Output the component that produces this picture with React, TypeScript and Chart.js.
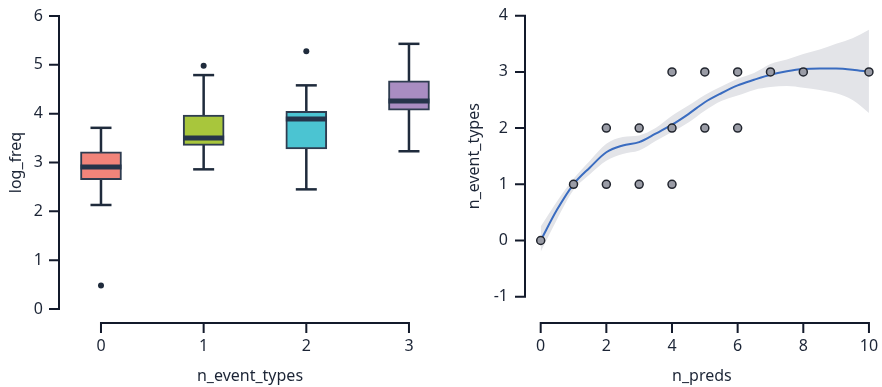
import React, { useEffect, useRef } from "react";
import { Chart, registerables } from "chart.js";

Chart.register(...registerables);

const FONT = "'Noto Sans', 'Open Sans', sans-serif";
const TEXT = "#1c2536";
const AXIS = "#131a2b";

// ---- Left panel: boxplot ----
const boxCategories = [0, 1, 2, 3];
const boxQ1 = [2.65, 3.35, 3.28, 4.07];
const boxQ3 = [3.22, 3.97, 4.05, 4.67];
const boxMedian = [2.91, 3.5, 3.89, 4.26];
const whiskerLo = [2.13, 2.86, 2.45, 3.23];
const whiskerHi = [3.71, 4.79, 4.58, 5.43];
const outlierX = [0, 1, 2];
const outlierY = [0.48, 4.98, 5.28];
const boxColors = ["#f2847a", "#a8c63c", "#4bc4d2", "#a98dc2"];
const leftYTicks = [0, 1, 2, 3, 4, 5, 6];
const leftXTicks = [0, 1, 2, 3];

// ---- Right panel: scatter + smooth ----
const ptX = [0, 1, 2, 2, 3, 3, 4, 4, 4, 5, 5, 6, 6, 7, 8, 10];
const ptY = [0, 1, 1, 2, 1, 2, 1, 2, 3, 2, 3, 2, 3, 3, 3, 3];
const smoothX = [0, 0.5, 1, 1.5, 2, 2.5, 3, 3.5, 4, 4.5, 5, 5.5, 6, 6.5, 7, 7.5, 8, 8.5, 9, 9.5, 10];
const smoothY = [0.0, 0.55, 1.0, 1.3, 1.57, 1.69, 1.75, 1.9, 2.06, 2.25, 2.46, 2.62, 2.76, 2.86, 2.95, 3.01, 3.05, 3.06, 3.06, 3.04, 3.0];
const bandHi = [0.25, 0.7, 1.1, 1.42, 1.72, 1.84, 1.87, 2.0, 2.22, 2.4, 2.59, 2.74, 2.88, 2.98, 3.14, 3.22, 3.32, 3.4, 3.5, 3.6, 3.75];
const bandLo = [-0.2, 0.38, 0.9, 1.18, 1.42, 1.54, 1.6, 1.77, 1.93, 2.1, 2.31, 2.48, 2.58, 2.68, 2.73, 2.75, 2.72, 2.68, 2.62, 2.5, 2.27];
const rightYTicks = [-1, 0, 1, 2, 3, 4];
const rightXTicks = [0, 2, 4, 6, 8, 10];

const trimAxes = {
  id: "trimAxes",
  afterDraw(chart: any, _args: any, opts: any) {
    const { ctx, chartArea, scales } = chart;
    const x = scales.x;
    const y = scales.y;
    ctx.save();
    ctx.strokeStyle = opts.color;
    ctx.lineWidth = 2;
    ctx.lineCap = "square";
    ctx.beginPath();
    const yt = y.ticks.map((t: any) => y.getPixelForValue(t.value));
    const left = chartArea.left;
    ctx.moveTo(left, Math.min(...yt));
    ctx.lineTo(left, Math.max(...yt));
    yt.forEach((p: number) => {
      ctx.moveTo(left - opts.tick, p);
      ctx.lineTo(left, p);
    });
    const xt = x.ticks.map((t: any) => x.getPixelForValue(t.value));
    const ay = opts.axisY;
    ctx.moveTo(Math.min(...xt), ay);
    ctx.lineTo(Math.max(...xt), ay);
    xt.forEach((p: number) => {
      ctx.moveTo(p, ay);
      ctx.lineTo(p, ay + opts.tick);
    });
    ctx.stroke();
    ctx.restore();
  },
};

const font = { family: FONT, size: 16 };

function axisBase(ticks: number[], labelGap: number, title: string, titlePad: any, size: number, horizontal: boolean) {
  return {
    type: "linear",
    offset: false,
    afterBuildTicks: (s: any) => {
      s.ticks = ticks.map((v) => ({ value: v }));
    },
    afterFit: (s: any) => {
      if (horizontal) s.height = size;
      else s.width = size;
    },
    grid: { display: false, drawTicks: true, tickLength: labelGap },
    border: { display: false },
    ticks: { padding: 0, color: TEXT, font, autoSkip: false, maxRotation: 0 },
    title: { display: true, text: title, color: TEXT, font, padding: titlePad },
  };
}

function LeftChart() {
  const ref = useRef<HTMLCanvasElement>(null);
  useEffect(() => {
    const whiskerData: any[] = [];
    boxCategories.forEach((c, i) => {
      whiskerData.push({ x: c, y: whiskerLo[i] });
      whiskerData.push({ x: c, y: whiskerHi[i] });
      whiskerData.push({ x: c + 0.5, y: null });
    });
    const capData: any[] = [];
    boxCategories.forEach((c, i) => {
      capData.push({ x: c, y: whiskerLo[i] });
      capData.push({ x: c, y: whiskerHi[i] });
    });
    const chart = new Chart(ref.current!, {
      type: "bar",
      data: {
        datasets: [
          {
            type: "line",
            data: outlierX.map((x, i) => ({ x, y: outlierY[i] })),
            showLine: false,
            pointRadius: 3,
            pointBackgroundColor: "#1f2b3c",
            pointBorderWidth: 0,
          } as any,
          {
            type: "line",
            data: boxCategories.map((x, i) => ({ x, y: boxMedian[i] })),
            showLine: false,
            pointStyle: "line",
            pointRadius: 20.5,
            pointBorderWidth: 5,
            pointBorderColor: "#25344a",
          } as any,
          {
            type: "bar",
            data: boxCategories.map((x, i) => ({ x, y: [boxQ1[i], boxQ3[i]] })),
            backgroundColor: boxColors,
            borderColor: "#2e3c50",
            borderWidth: 2,
            borderSkipped: false,
            barThickness: 41,
          } as any,
          {
            type: "line",
            data: capData,
            showLine: false,
            pointStyle: "line",
            pointRadius: 10.5,
            pointBorderWidth: 2.5,
            pointBorderColor: "#1f2b3c",
          } as any,
          {
            type: "line",
            data: whiskerData,
            borderColor: "#1f2b3c",
            borderWidth: 2.5,
            pointRadius: 0,
            spanGaps: false,
          } as any,
        ],
      },
      options: {
        animation: false,
        responsive: true,
        maintainAspectRatio: false,
        events: [],
        layout: { autoPadding: false, padding: { left: 0, top: 16, right: 0, bottom: 0 } },
        plugins: {
          legend: { display: false },
          tooltip: { enabled: false },
          trimAxes: { color: AXIS, tick: 9, axisY: 323 },
        } as any,
        scales: {
          x: { ...axisBase(leftXTicks, 27.4, "n_event_types", { top: 0, bottom: 1.4 }, 78, true), min: -0.409, max: 3.312 },
          y: { ...axisBase(leftYTicks, 16, "log_freq", { top: 6.4, bottom: 0 }, 59, false), min: 0, max: 6 },
        } as any,
      },
      plugins: [trimAxes as any],
    });
    return () => chart.destroy();
  }, []);
  return (
    <div style={{ position: "relative", width: 441, height: 387 }}>
      <canvas ref={ref} />
    </div>
  );
}

function RightChart() {
  const ref = useRef<HTMLCanvasElement>(null);
  useEffect(() => {
    const chart = new Chart(ref.current!, {
      type: "line",
      data: {
        datasets: [
          {
            data: ptX.map((x, i) => ({ x, y: ptY[i] })),
            showLine: false,
            pointRadius: 4,
            pointBackgroundColor: "#9a9ca6",
            pointBorderColor: "#22262f",
            pointBorderWidth: 1.5,
          } as any,
          {
            data: smoothX.map((x, i) => ({ x, y: smoothY[i] })),
            borderColor: "#3a6cc0",
            borderWidth: 2,
            pointRadius: 0,
            cubicInterpolationMode: "monotone",
          } as any,
          {
            data: smoothX.map((x, i) => ({ x, y: bandHi[i] })),
            borderWidth: 0,
            borderColor: "rgba(0,0,0,0)",
            pointRadius: 0,
            fill: "+1",
            backgroundColor: "#e3e4e8",
            cubicInterpolationMode: "monotone",
          } as any,
          {
            data: smoothX.map((x, i) => ({ x, y: bandLo[i] })),
            borderWidth: 0,
            borderColor: "rgba(0,0,0,0)",
            pointRadius: 0,
            fill: false,
            cubicInterpolationMode: "monotone",
          } as any,
        ],
      },
      options: {
        animation: false,
        responsive: true,
        maintainAspectRatio: false,
        events: [],
        layout: { autoPadding: false, padding: { left: 0, top: 15.7, right: 3.2, bottom: 0 } },
        plugins: {
          legend: { display: false },
          tooltip: { enabled: false },
          trimAxes: { color: AXIS, tick: 9, axisY: 323 },
        } as any,
        scales: {
          x: { ...axisBase(rightXTicks, 39.7, "n_preds", { top: 0, bottom: 1.4 }, 90.3, true), min: -0.478, max: 10.3 },
          y: { ...axisBase(rightYTicks, 17, "n_event_types", { top: 23.4, bottom: 0 }, 84, false), min: -1, max: 4 },
        } as any,
      },
      plugins: [trimAxes as any],
    });
    return () => chart.destroy();
  }, []);
  return (
    <div style={{ position: "relative", width: 441, height: 387 }}>
      <canvas ref={ref} />
    </div>
  );
}

export default function App() {
  return (
    <div style={{ position: "fixed", left: 0, top: 0, width: 882, height: 387, display: "flex", background: "#fff" }}>
      <LeftChart />
      <RightChart />
    </div>
  );
}
